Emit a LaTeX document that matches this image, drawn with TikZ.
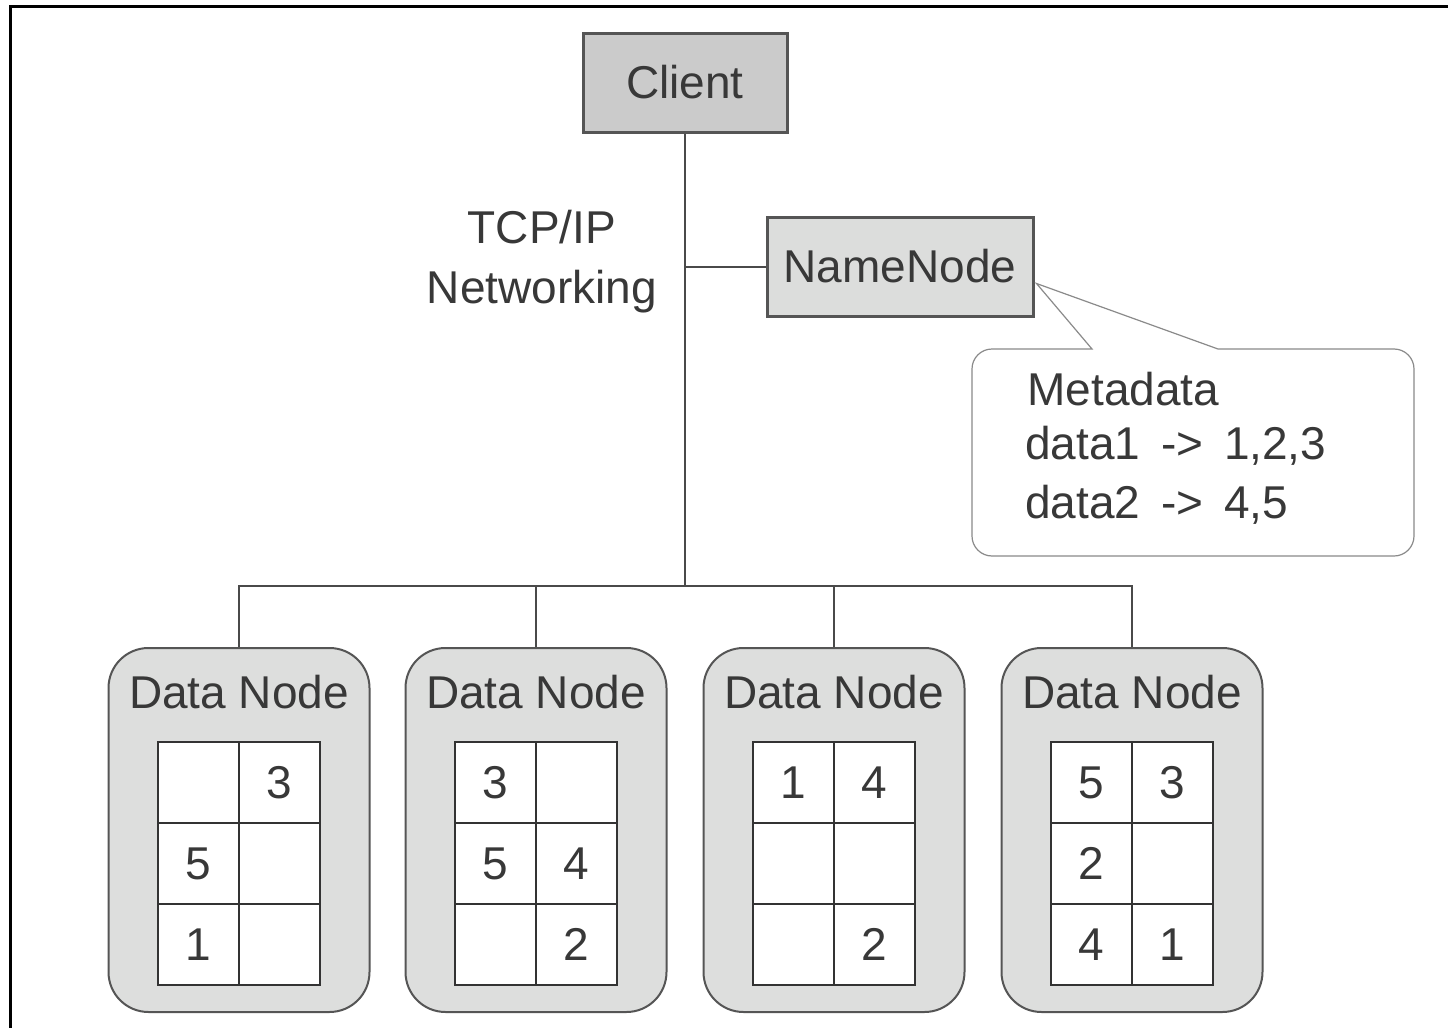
\documentclass[tikz,border=0pt]{standalone}
\usepackage{fontspec}
\setmainfont{Liberation Sans}
\usetikzlibrary{calc}
\definecolor{ink}{HTML}{383838}
\definecolor{boxline}{HTML}{555555}
\definecolor{clientfill}{HTML}{CBCBCB}
\definecolor{nnfill}{HTML}{DCDDDC}
\definecolor{dnfill}{HTML}{DDDEDD}
\definecolor{gridline}{HTML}{333333}
\definecolor{wireline}{HTML}{4A4A4A}
\definecolor{calloutline}{HTML}{8A8A8A}
\newcommand\gap{\hspace{0.45em}}
\tikzset{
  txt/.style={font=\fontsize{23}{28}\selectfont, text=ink, inner sep=0pt},
  hostbox/.style={draw=boxline, line width=1.5pt, minimum height=49.5pt, inner sep=0pt, txt},
  dnode/.style={draw=boxline, fill=dnfill, line width=1pt, rounded corners=20pt,
                minimum width=130.5pt, minimum height=182pt, inner sep=0pt},
  cell/.style={draw=gridline, fill=white, line width=1.4pt, minimum width=40.5pt,
               minimum height=40.5pt, inner sep=0pt, txt},
  wire/.style={draw=wireline, line width=1pt},
  callout/.style={draw=calloutline, fill=white, line width=0.6pt}
}
\begin{document}
\begin{tikzpicture}[x=0.5pt, y=-0.5pt]
  \clip (0,0) rectangle (1448,1028);
  \fill[white] (0,0) rectangle (1448,1028);
  % outer frame, running past the right and bottom edges
  \draw[line width=1.5pt, black] (10,6) rectangle (1470,1060);

  % client and name node
  \node[hostbox, fill=clientfill, minimum width=102pt] (client) at (685,82.5) {Client};
  \node[hostbox, fill=nnfill, minimum width=133pt] (nn) at (900,266.5) {NameNode};

  % network label
  \node[txt, align=center] (net) at (542,262) {TCP/IP\\[2pt]Networking};

  % data nodes with their block grids
  \foreach \i/\x/\a/\b/\c/\d/\e/\f in {
      1/239/{}/3/5/{}/1/{},
      2/536/3/{}/5/4/{}/2,
      3/834/1/4/{}/{}/{}/2,
      4/1132/5/3/2/{}/4/1} {
    \node[dnode] (dn\i) at (\x,830) {};
    \node[txt, anchor=base] (dl\i) at (\x,708) {Data Node};
    \node[cell] (c\i a) at (\x-40.5,782.5) {\a};
    \node[cell] (c\i b) at (\x+40.5,782.5) {\b};
    \node[cell] (c\i c) at (\x-40.5,863.5) {\c};
    \node[cell] (c\i d) at (\x+40.5,863.5) {\d};
    \node[cell] (c\i e) at (\x-40.5,944.5) {\e};
    \node[cell] (c\i f) at (\x+40.5,944.5) {\f};
  }

  % network wiring
  \coordinate (bus) at (685,586);
  \draw[wire] (client.south) -- (bus);
  \draw[wire] (nn.west) -- (nn.west -| client.south);
  \draw[wire] (dn1.north) |- (bus) -| (dn4.north);
  \draw[wire] (dn2.north) -- (dn2.north |- bus);
  \draw[wire] (dn3.north) -- (dn3.north |- bus);

  % metadata callout: rounded body, sharp pointer
  \coordinate (tip) at ($(nn.east)+(2,17)$);
  \draw[callout, rounded corners=10pt] (1218,349) -- (1414,349) -- (1414,556)
       -- (972,556) -- (972,349) [sharp corners] -- (1092,349) -- (tip) -- cycle;
  \node[txt, anchor=base west] (m0) at (1027,405) {Metadata};
  \node[txt, anchor=base west] (m1) at (1025,459) {data1\gap->\gap1,2,3};
  \node[txt, anchor=base west] (m2) at (1025,518) {data2\gap->\gap4,5};
\end{tikzpicture}
\end{document}
